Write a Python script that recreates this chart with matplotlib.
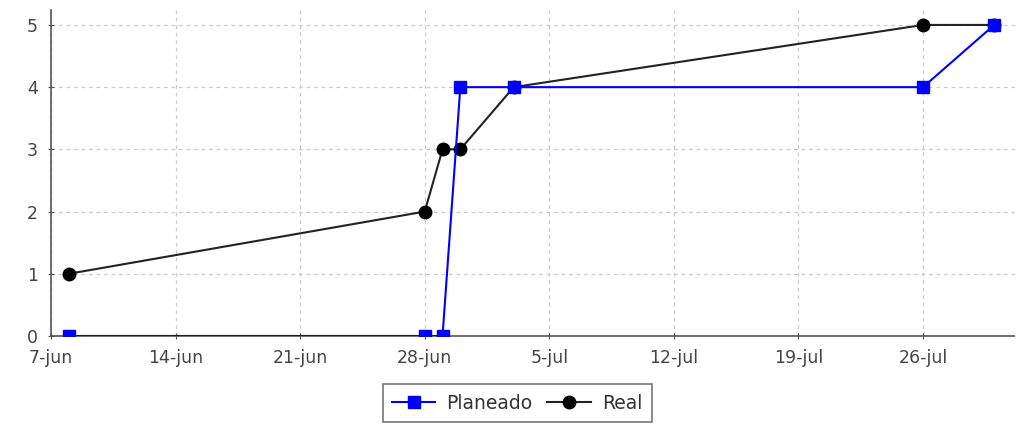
import numpy as np
import matplotlib
matplotlib.use("Agg")
import matplotlib.pyplot as plt
from datetime import datetime

# data
planeado_dates = ["2020-06-08", "2020-06-28", "2020-06-29", "2020-06-30",
                  "2020-07-03", "2020-07-26", "2020-07-30"]
planeado_vals = [0, 0, 0, 4, 4, 4, 5]
real_dates = ["2020-06-08", "2020-06-28", "2020-06-29", "2020-06-30",
              "2020-07-03", "2020-07-26", "2020-07-30"]
real_vals = [1, 2, 3, 3, 4, 5, 5]
tick_dates = ["2020-06-07", "2020-06-14", "2020-06-21", "2020-06-28",
              "2020-07-05", "2020-07-12", "2020-07-19", "2020-07-26"]
tick_labels = ["7-jun", "14-jun", "21-jun", "28-jun",
               "5-jul", "12-jul", "19-jul", "26-jul"]

to_dt = lambda xs: [datetime.strptime(s, "%Y-%m-%d") for s in xs]

fig = plt.figure(figsize=(10.26, 4.24), dpi=100)
ax = fig.add_axes([51/1026, 1-336/424, (1015-51)/1026, (336-10)/424])

ax.plot(to_dt(real_dates), real_vals, color="#222222", lw=1.5,
        marker="o", markersize=9, markerfacecolor="black",
        markeredgecolor="black", label="Real", zorder=3)
ax.plot(to_dt(planeado_dates), planeado_vals, color="#0000ff", lw=1.5,
        marker="s", markersize=9, label="Planeado", zorder=4)

ax.set_xlim(datetime(2020, 6, 7), datetime(2020, 7, 31, 4))
ax.set_ylim(0, 5.24)
ax.set_xticks(to_dt(tick_dates))
ax.set_xticklabels(tick_labels)
ax.set_yticks(range(6))

ax.grid(True, color="#cccccc", linestyle=(0, (3, 3)), linewidth=0.9)
for s in ["top", "right"]:
    ax.spines[s].set_visible(False)
for s in ["left", "bottom"]:
    ax.spines[s].set_color("#555555")
    ax.spines[s].set_linestyle((0, (2, 1)))
    ax.spines[s].set_linewidth(1.2)
ax.tick_params(direction="inout", length=5, color="#555555",
               labelsize=12.5, labelcolor="#444444")
ax.tick_params(axis="x", pad=7)
ax.tick_params(axis="y", pad=7)

h, l = ax.get_legend_handles_labels()
leg = fig.legend(h[::-1], l[::-1], loc="lower center",
                 bbox_to_anchor=(0.504, 0.0), ncol=2,
                 fontsize=13.5, frameon=True, fancybox=False,
                 handlelength=2.3, handletextpad=0.6, columnspacing=0.8,
                 borderpad=0.5, borderaxespad=0.1)
leg.get_frame().set_edgecolor("#555555")
leg.get_frame().set_linewidth(1.2)
for t in leg.get_texts():
    t.set_color("#333333")

fig.savefig("out.png", dpi=100)
